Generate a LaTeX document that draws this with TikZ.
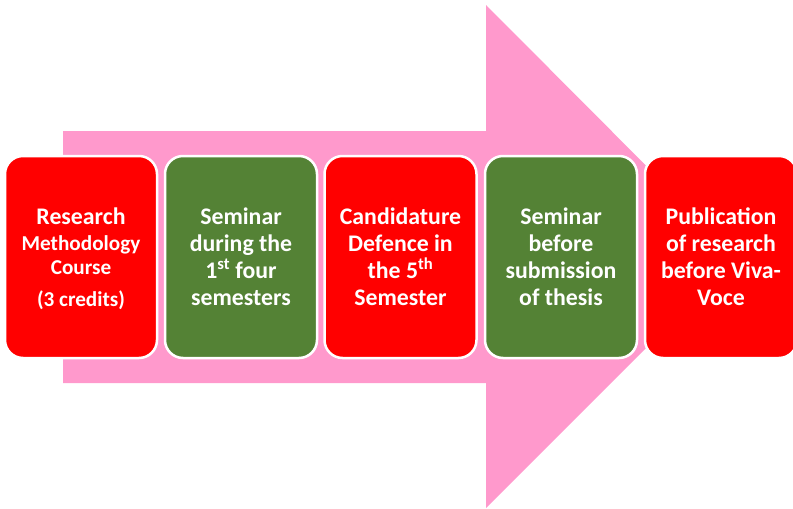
\documentclass[tikz,border=0pt]{standalone}
\usepackage{fontspec}
\setmainfont{Carlito}
\definecolor{boxred}{HTML}{FF0000}
\definecolor{boxgreen}{HTML}{548235}
\definecolor{arrowpink}{HTML}{FF99CC}
\tikzset{
  stagetext/.style={inner sep=0pt, text=white, align=center,
    font=\fontsize{23.8}{27}\selectfont\bfseries},
  stagebox/.style={stagetext, draw=white, line width=2.5pt, rounded corners=18pt,
    minimum width=152pt, minimum height=202pt},
  redbox/.style={stagebox, fill=boxred},
  greenbox/.style={stagebox, fill=boxgreen},
}
\begin{document}
\begin{tikzpicture}[x=1pt,y=-1pt]
\useasboundingbox (0,0) rectangle (793,509);
% big arrow
\fill[arrowpink] (63,131) -- (486,131) -- (486,5) -- (737,257) -- (486,508) -- (486,383) -- (63,383) -- cycle;
% boxes
\node[redbox] (b1) at (81,257) {};
\node[stagetext] (b1t) at (b1.center) [yshift=-2pt] {Research\\[-1pt]
  {\fontsize{21.2}{24}\selectfont Methodology}\\[-3pt]
  {\fontsize{21.2}{24}\selectfont Course}\\[5pt]
  {\fontsize{21.2}{24}\selectfont (3 credits)}};
\node[greenbox] (b2) at (241,257) {Seminar\\during the\\1\textsuperscript{st} four\\semesters};
\node[redbox] (b3) at (400.5,257) {Candidature\\Defence in\\the 5\textsuperscript{th}\\Semester};
\node[greenbox] (b4) at (561,257) {Seminar\\before\\submission\\of thesis};
\node[redbox] (b5) at (721,257) {Publication\\of research\\before Viva-\\Voce};
\end{tikzpicture}
\end{document}
